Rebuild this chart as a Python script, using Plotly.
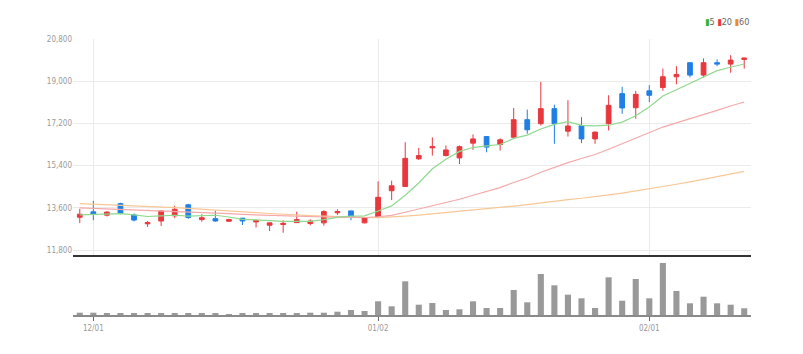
import plotly.graph_objects as go

# ---- data ----
tick_labels = ["12/01", "01/02", "02/01"]
tick_index = [1, 22, 42]
price_ticks = [11800, 13600, 15400, 17200, 19000, 20800]

open_ = [13200, 13430, 13290, 13780, 13300, 12920, 13040, 13260, 13730, 13100,
         13140, 13030, 13160, 13000, 12860, 12890, 12970, 12930, 12960, 13390,
         13470, 12960, 13190, 14330, 14510, 15690, 16160, 15830, 15730, 16360,
         16640, 16300, 16610, 17360, 17190, 17830, 16870, 17110, 16540, 17190,
         18470, 17870, 18590, 18730, 19190, 19790, 19260, 19790, 19730, 19930]
high = [13560, 13900, 13450, 13820, 13360, 13040, 13500, 13690, 13770, 13330,
        13470, 13130, 13170, 13080, 12970, 13070, 13440, 13110, 13500, 13540,
        13480, 13200, 14730, 14760, 16400, 16160, 16610, 16260, 16260, 16730,
        16650, 16560, 17860, 17790, 18970, 18000, 18190, 17470, 16850, 18400,
        18760, 18590, 18830, 19540, 19640, 19800, 19970, 19930, 20110, 20000]
low = [12950, 13070, 13230, 13330, 13020, 12790, 12830, 13160, 13130, 13010,
       13010, 13000, 12870, 12760, 12610, 12540, 12960, 12860, 12840, 13300,
       13070, 12940, 13180, 13930, 14500, 15640, 15830, 15790, 15470, 16070,
       15970, 16040, 16600, 16760, 17110, 16330, 16640, 16360, 16330, 16900,
       17610, 17400, 18110, 18590, 18870, 19160, 19160, 19640, 19360, 19540]
close = [13330, 13330, 13420, 13360, 13080, 12970, 13470, 13540, 13190, 13180,
         13040, 13100, 13040, 13070, 12960, 12940, 13100, 13040, 13440, 13440,
         13210, 13180, 14050, 14540, 15710, 15830, 16210, 16070, 16210, 16540,
         16190, 16500, 17360, 16930, 17830, 17190, 17090, 16540, 16830, 17970,
         17860, 18440, 18400, 19190, 19290, 19260, 19790, 19730, 19900, 19990]
volume = [23000, 23000, 10000, 10000, 10000, 10000, 17000, 20000, 17000, 20000,
          20000, 3000, 17000, 10000, 10000, 20000, 17000, 23000, 23000, 33000,
          50000, 40000, 137000, 87000, 337000, 103000, 120000, 50000, 57000, 137000,
          70000, 70000, 250000, 127000, 410000, 297000, 203000, 167000, 70000, 377000,
          143000, 360000, 167000, 520000, 240000, 117000, 183000, 117000, 103000, 67000]
ma5 = [13300, 13320, 13340, 13350, 13304, 13232, 13260, 13284, 13250, 13270,
       13284, 13210, 13110, 13086, 13042, 13022, 13022, 13022, 13096, 13192,
       13246, 13262, 13464, 13684, 14138, 14662, 15268, 15672, 16006, 16172,
       16244, 16302, 16560, 16704, 16962, 17162, 17280, 17116, 17096, 17124,
       17258, 17528, 17900, 18372, 18636, 18916, 19186, 19452, 19594, 19734]
ma20 = [13600, 13580, 13560, 13540, 13510, 13480, 13460, 13440, 13420, 13400,
        13380, 13350, 13320, 13300, 13270, 13250, 13230, 13220, 13210, 13202,
        13196, 13189, 13220, 13279, 13411, 13554, 13691, 13817, 13968, 14136,
        14294, 14464, 14680, 14873, 15116, 15329, 15528, 15703, 15873, 16099,
        16332, 16595, 16812, 17045, 17224, 17395, 17574, 17757, 17942, 18114]
ma60 = [13780, 13760, 13740, 13720, 13690, 13660, 13640, 13610, 13580, 13550,
        13510, 13480, 13440, 13400, 13360, 13320, 13290, 13270, 13250, 13225,
        13205, 13190, 13184, 13207, 13250, 13294, 13345, 13394, 13445, 13502,
        13552, 13608, 13678, 13741, 13819, 13887, 13952, 14009, 14070, 14150,
        14229, 14317, 14405, 14505, 14608, 14709, 14820, 14930, 15042, 15156]
ma_names = ["5", "20", "60"]

# ---- styling ----
RED = "#e8383d"
BLUE = "#1f7fe5"
MA_COLORS = ["#8fd98f", "#f5a8a8", "#f7c796"]
LEGEND_COLORS = ["#2db52d", "#e8383d", "#f08c1e"]
FONT = "DejaVu Sans Condensed, Arial Narrow, sans-serif"

n = len(close)
x = list(range(n))

fig = go.Figure()
for ma, col, name in zip([ma60, ma20, ma5], MA_COLORS[::-1], ma_names[::-1]):
    fig.add_trace(go.Scatter(x=x, y=ma, mode="lines", name=name,
                             line=dict(color=col, width=1.2),
                             xaxis="x", yaxis="y", hoverinfo="skip"))
fig.add_trace(go.Candlestick(
    x=x, open=open_, high=high, low=low, close=close,
    increasing=dict(line=dict(color=RED, width=1), fillcolor=RED),
    decreasing=dict(line=dict(color=BLUE, width=1), fillcolor=BLUE),
    whiskerwidth=0, xaxis="x", yaxis="y", name="price"))
fig.add_trace(go.Bar(x=x, y=volume, marker=dict(color="#999999", line=dict(width=0)),
                     xaxis="x2", yaxis="y2", name="volume"))

legend_text = "&nbsp;".join(
    f'<span style="color:{c}">▮</span><span style="color:#666">{t}</span>'
    for c, t in zip(LEGEND_COLORS, ma_names))

tickfont = dict(family=FONT, size=8, color="#999999")
fig.update_layout(
    width=803, height=354,
    margin=dict(l=73, r=52, t=39, b=39),
    paper_bgcolor="white", plot_bgcolor="white",
    showlegend=False, boxgap=0.5, bargap=0.55,
    xaxis=dict(domain=[0, 1], range=[-0.5, n - 0.5], anchor="y",
               tickvals=tick_index, showticklabels=False, ticks="",
               showgrid=True, gridcolor="#ebebeb", gridwidth=1,
               showline=True, linecolor="#333333", linewidth=2,
               zeroline=False, rangeslider=dict(visible=False)),
    xaxis2=dict(domain=[0, 1], range=[-0.5, n - 0.5], anchor="y2", matches="x",
                tickvals=tick_index, ticktext=tick_labels, ticks="outside",
                ticklen=4, tickcolor="#666666", tickfont=tickfont,
                showgrid=False, showline=True, linecolor="#8a8a8a", linewidth=2,
                zeroline=False),
    yaxis=dict(domain=[0.2174, 1], range=[11590, 20800], tickvals=price_ticks,
               tickformat=",", gridcolor="#ebebeb", gridwidth=1, showline=False,
               zeroline=False, tickfont=tickfont, ticks=""),
    yaxis2=dict(domain=[0, 0.2065], range=[0, 570000], showticklabels=False,
                showgrid=False, zeroline=False),
    annotations=[dict(x=1.0, y=1.062, xref="paper", yref="paper",
                      xanchor="right", yanchor="middle", showarrow=False,
                      text=legend_text, font=dict(family=FONT, size=9))],
)

fig.write_html("out.html")
